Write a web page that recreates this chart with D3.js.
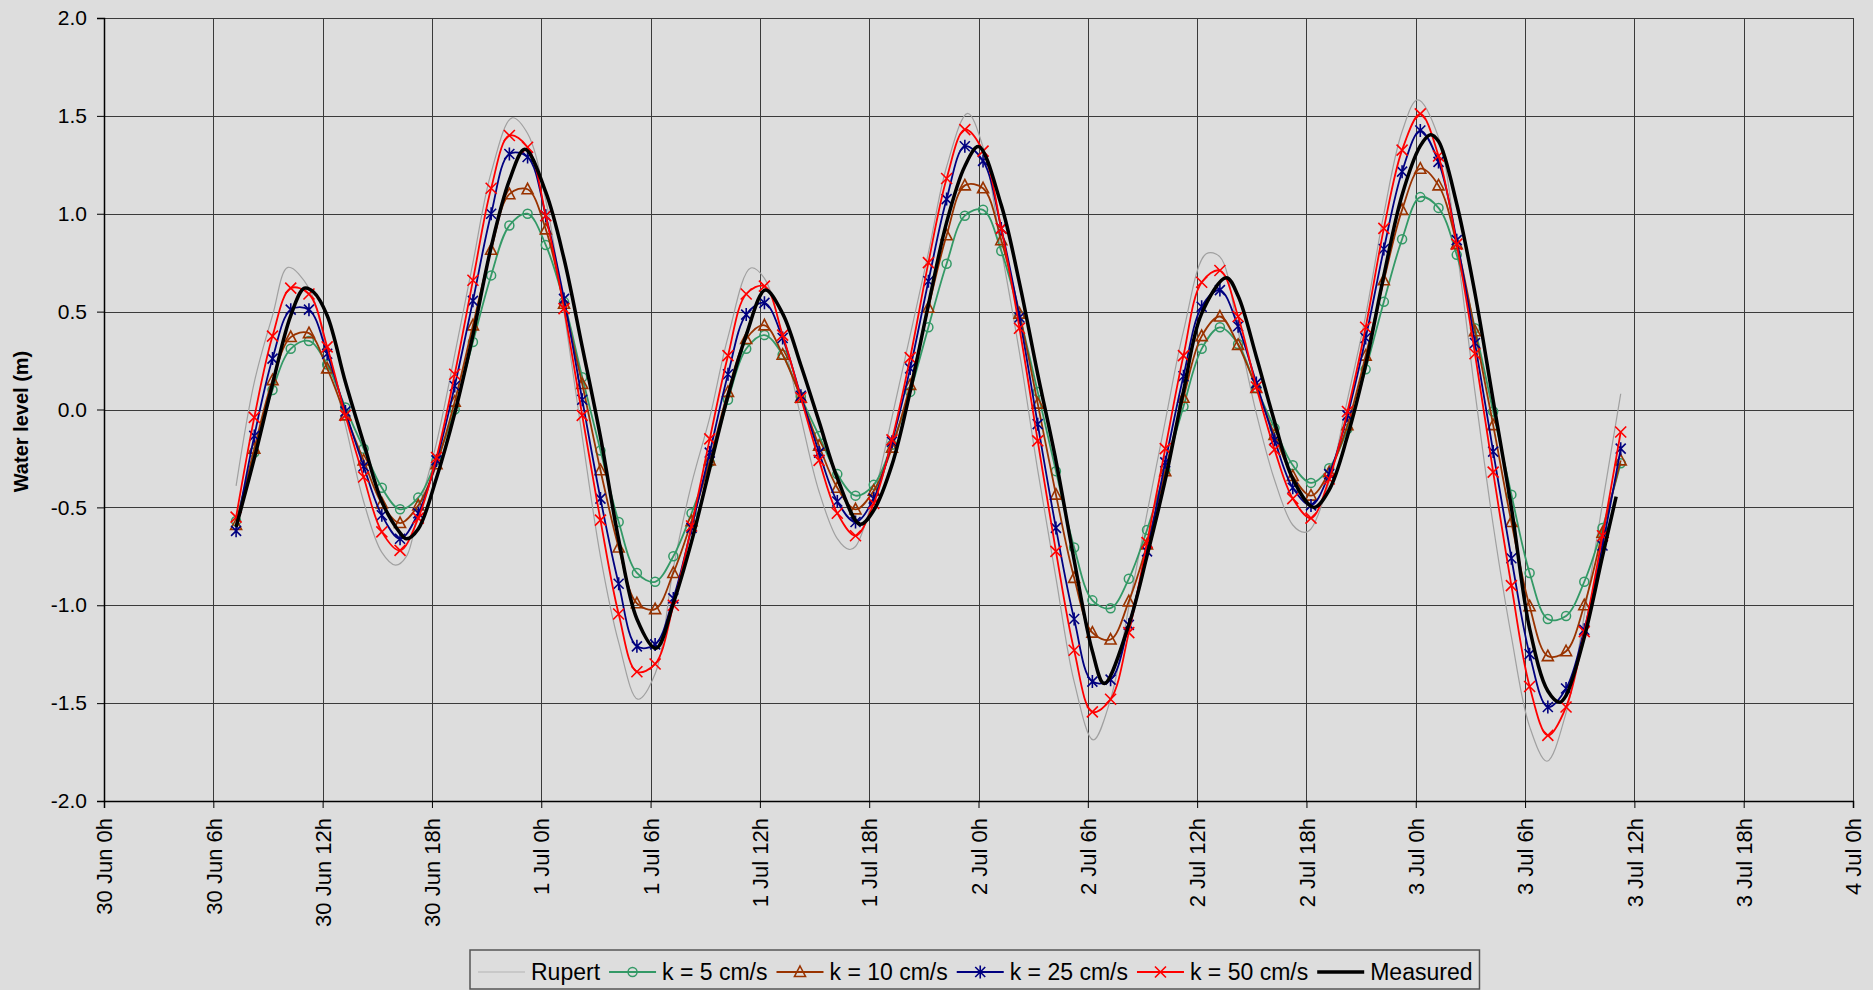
<!DOCTYPE html>
<html>
<head>
<meta charset="utf-8">
<script src="https://cdn.jsdelivr.net/npm/d3@7"></script>
<style>
  html, body { margin: 0; padding: 0; background: #dddddd; }
  svg { display: block; }
  text { font-family: "Liberation Sans", Arial, sans-serif; fill: #000; }
</style>
</head>
<body>
<svg id="chart" width="1873" height="990"></svg>
<script>
// ---------- DATA ----------
// time axis: hours since 30 Jun 0h
const xTickHours = [0,6,12,18,24,30,36,42,48,54,60,66,72,78,84,90,96];
const xTickLabels = ["30 Jun 0h","30 Jun 6h","30 Jun 12h","30 Jun 18h","1 Jul 0h","1 Jul 6h","1 Jul 12h","1 Jul 18h","2 Jul 0h","2 Jul 6h","2 Jul 12h","2 Jul 18h","3 Jul 0h","3 Jul 6h","3 Jul 12h","3 Jul 18h","4 Jul 0h"];
const yTicks = [-2,-1.5,-1,-0.5,0,0.5,1,1.5,2];

// model output times (hourly, at :15)
const modelTimes = [7.25,8.25,9.25,10.25,11.25,12.25,13.25,14.25,15.25,16.25,17.25,18.25,19.25,20.25,21.25,22.25,23.25,24.25,25.25,26.25,27.25,28.25,29.25,30.25,31.25,32.25,33.25,34.25,35.25,36.25,37.25,38.25,39.25,40.25,41.25,42.25,43.25,44.25,45.25,46.25,47.25,48.25,49.25,50.25,51.25,52.25,53.25,54.25,55.25,56.25,57.25,58.25,59.25,60.25,61.25,62.25,63.25,64.25,65.25,66.25,67.25,68.25,69.25,70.25,71.25,72.25,73.25,74.25,75.25,76.25,77.25,78.25,79.25,80.25,81.25,82.25,83.25];

const k5 = [-0.57,-0.22,0.10,0.31,0.35,0.23,0.01,-0.20,-0.40,-0.51,-0.45,-0.26,0.00,0.345,0.685,0.94,1.00,0.84,0.55,0.165,-0.21,-0.575,-0.835,-0.88,-0.75,-0.53,-0.27,0.05,0.31,0.38,0.28,0.065,-0.135,-0.33,-0.44,-0.385,-0.18,0.09,0.42,0.745,0.99,1.02,0.81,0.48,0.09,-0.315,-0.705,-0.975,-1.015,-0.865,-0.615,-0.31,0.015,0.31,0.42,0.335,0.11,-0.095,-0.285,-0.375,-0.30,-0.10,0.205,0.55,0.87,1.085,1.03,0.79,0.415,-0.01,-0.435,-0.835,-1.07,-1.055,-0.88,-0.605,-0.275];
const k10 = [-0.59,-0.20,0.15,0.37,0.39,0.21,-0.03,-0.26,-0.48,-0.58,-0.49,-0.28,0.04,0.43,0.816,1.10,1.125,0.92,0.54,0.13,-0.31,-0.705,-0.99,-1.02,-0.835,-0.57,-0.26,0.09,0.36,0.43,0.28,0.06,-0.185,-0.40,-0.51,-0.415,-0.195,0.125,0.52,0.89,1.145,1.13,0.865,0.49,0.03,-0.435,-0.86,-1.14,-1.175,-0.98,-0.69,-0.315,0.06,0.375,0.475,0.33,0.11,-0.13,-0.34,-0.44,-0.32,-0.08,0.275,0.66,1.02,1.23,1.145,0.845,0.40,-0.08,-0.575,-1.005,-1.26,-1.235,-1.00,-0.63,-0.26];
const k25 = [-0.62,-0.135,0.26,0.51,0.51,0.285,-0.01,-0.29,-0.54,-0.66,-0.53,-0.26,0.12,0.555,1.00,1.305,1.29,0.99,0.565,0.05,-0.455,-0.89,-1.21,-1.20,-0.965,-0.605,-0.22,0.18,0.485,0.545,0.365,0.07,-0.22,-0.47,-0.575,-0.455,-0.165,0.21,0.655,1.075,1.345,1.27,0.925,0.47,-0.075,-0.605,-1.07,-1.39,-1.38,-1.10,-0.725,-0.27,0.17,0.525,0.61,0.425,0.135,-0.155,-0.40,-0.49,-0.33,-0.03,0.365,0.82,1.215,1.425,1.265,0.865,0.34,-0.215,-0.76,-1.25,-1.52,-1.425,-1.125,-0.695,-0.20];
const k50 = [-0.55,-0.04,0.375,0.62,0.59,0.32,-0.03,-0.345,-0.625,-0.72,-0.555,-0.245,0.18,0.66,1.13,1.40,1.34,0.99,0.515,-0.03,-0.565,-1.045,-1.34,-1.30,-1.00,-0.595,-0.15,0.275,0.59,0.63,0.38,0.06,-0.26,-0.53,-0.645,-0.48,-0.155,0.265,0.75,1.18,1.43,1.32,0.925,0.415,-0.16,-0.725,-1.23,-1.545,-1.48,-1.14,-0.68,-0.20,0.275,0.65,0.71,0.475,0.115,-0.205,-0.455,-0.555,-0.355,-0.01,0.42,0.925,1.325,1.51,1.295,0.845,0.285,-0.32,-0.90,-1.415,-1.665,-1.52,-1.135,-0.645,-0.115];

const rupertTimes = [7.25,8.25,9.25,10.1,11.25,12.25,13.25,14.25,15.25,16.0,16.6,17.25,18.25,19.25,20.25,21.25,22.4,23.25,24.25,25.25,26.25,27.25,28.25,29.3,30.25,31.25,32.25,33.25,34.25,35.5,36.25,37.25,38.25,39.25,40.25,40.9,41.25,42.25,43.25,44.25,45.25,46.25,47.4,48.25,49.25,50.25,51.25,52.25,53.25,54.3,55.25,56.25,57.25,58.25,59.25,60.5,61.25,62.25,63.25,64.25,65.25,65.9,66.25,67.25,68.25,69.25,70.25,71.25,72.1,73.25,74.25,75.25,76.25,77.25,78.25,79.2,80.25,81.25,82.25,83.25];
const rupert = [-0.39,0.14,0.48,0.726,0.62,0.29,-0.08,-0.47,-0.73,-0.795,-0.75,-0.52,-0.17,0.28,0.75,1.21,1.49,1.41,1.07,0.50,-0.14,-0.75,-1.19,-1.48,-1.35,-0.81,-0.38,-0.04,0.37,0.723,0.67,0.37,-0.04,-0.42,-0.66,-0.715,-0.70,-0.44,-0.04,0.38,0.80,1.24,1.513,1.34,0.82,0.29,-0.31,-0.86,-1.39,-1.688,-1.48,-1.01,-0.53,-0.06,0.40,0.796,0.78,0.40,-0.02,-0.36,-0.59,-0.628,-0.61,-0.37,0.05,0.48,1.00,1.42,1.582,1.39,0.82,0.09,-0.59,-1.16,-1.62,-1.797,-1.55,-1.05,-0.48,0.08];

const measuredTimes = [7.25,8.25,9.25,10.25,11.0,11.5,12.25,13.25,14.25,15.25,16.25,16.6,17.25,18.25,19.25,20.25,21.25,22.25,23.1,24.25,25.25,26.25,27.25,28.25,29.25,30.3,31.25,32.25,33.25,34.25,35.25,36.3,37.25,38.25,39.25,40.25,41.5,42.25,43.25,44.25,45.25,46.25,47.25,48.0,49.25,50.25,51.25,52.25,53.25,54.25,54.9,56.25,57.25,58.25,59.25,60.25,61.6,62.25,63.25,64.25,65.25,66.4,67.25,68.25,69.25,70.25,71.25,72.25,72.8,73.25,74.25,75.25,76.25,77.25,78.25,79.25,79.9,80.25,81.25,82.25,83.0];
const measured = [-0.60,-0.25,0.13,0.48,0.62,0.60,0.48,0.14,-0.17,-0.47,-0.63,-0.66,-0.61,-0.35,-0.02,0.38,0.83,1.17,1.33,1.11,0.77,0.32,-0.14,-0.665,-1.07,-1.22,-0.99,-0.675,-0.30,0.07,0.38,0.61,0.49,0.226,-0.062,-0.35,-0.586,-0.515,-0.283,0.093,0.535,0.956,1.243,1.343,1.044,0.646,0.181,-0.261,-0.77,-1.235,-1.40,-1.10,-0.748,-0.36,0.093,0.491,0.673,0.58,0.27,-0.062,-0.354,-0.50,-0.41,-0.137,0.228,0.685,1.096,1.347,1.404,1.37,1.05,0.594,0.046,-0.502,-1.119,-1.438,-1.495,-1.461,-1.164,-0.75,-0.445];

const seriesNames = ["Rupert","k = 5 cm/s","k = 10 cm/s","k = 25 cm/s","k = 50 cm/s","Measured"];

// ---------- LAYOUT ----------
const svg = d3.select("#chart");
const L = 104, R = 1853, T = 18, B = 801;
const x = d3.scaleLinear().domain([0, 96]).range([L, R]);
const y = d3.scaleLinear().domain([-2, 2]).range([B, T]);

// gridlines
const grid = svg.append("g");
grid.selectAll("line.h").data(yTicks).join("line")
  .attr("x1", L).attr("x2", R)
  .attr("y1", d => Math.round(y(d)) + 0.5).attr("y2", d => Math.round(y(d)) + 0.5)
  .attr("stroke", "#3a3a3a").attr("stroke-width", 1);
grid.selectAll("line.v").data(xTickHours).join("line")
  .attr("y1", T).attr("y2", B)
  .attr("x1", d => Math.round(x(d)) + 0.5).attr("x2", d => Math.round(x(d)) + 0.5)
  .attr("stroke", "#3a3a3a").attr("stroke-width", 1);

// axes
const yAxis = svg.append("g").attr("transform", `translate(${L},0)`)
  .call(d3.axisLeft(y).tickValues(yTicks).tickFormat(d => d.toFixed(1)).tickSize(7).tickPadding(10));
yAxis.select(".domain").attr("stroke", "#000").attr("stroke-width", 1.5);
yAxis.selectAll(".tick line").attr("stroke", "#000");
yAxis.selectAll("text").attr("font-size", 21).style("font-family", "'Liberation Sans', Arial, sans-serif");

const xAxis = svg.append("g").attr("transform", `translate(0,${B})`)
  .call(d3.axisBottom(x).tickValues(xTickHours).tickFormat((d, i) => xTickLabels[i]).tickSize(7));
xAxis.select(".domain").attr("stroke", "#000").attr("stroke-width", 1.5);
xAxis.selectAll(".tick line").attr("stroke", "#000");
xAxis.selectAll("text")
  .attr("font-size", 22).style("font-family", "'Liberation Sans', Arial, sans-serif")
  .attr("text-anchor", "end")
  .attr("transform", "rotate(-90)")
  .attr("x", -17).attr("y", 0).attr("dy", "0.35em");

// y label
svg.append("text")
  .attr("transform", `translate(21,${(T + B) / 2 + 12}) rotate(-90)`)
  .attr("text-anchor", "middle").attr("dy", "0.35em")
  .attr("font-size", 20).attr("font-weight", "bold")
  .text("Water level (m)");

// ---------- SERIES ----------
const line = d3.line().x(d => x(d[0])).y(d => y(d[1])).curve(d3.curveCatmullRom.alpha(0.5));
const zip = (ts, vs) => ts.map((t, i) => [t, vs[i]]);

const styles = [
  { name: seriesNames[0], t: rupertTimes, v: rupert, color: "#a0a0a0", width: 1.2, marker: null, legendColor: "#c0c0c0" },
  { name: seriesNames[1], t: modelTimes, v: k5, color: "#339966", width: 1.8, marker: "circle" },
  { name: seriesNames[2], t: modelTimes, v: k10, color: "#993300", width: 1.8, marker: "triangle" },
  { name: seriesNames[3], t: modelTimes, v: k25, color: "#000080", width: 1.8, marker: "star" },
  { name: seriesNames[4], t: modelTimes, v: k50, color: "#ff0000", width: 1.8, marker: "x" },
  { name: seriesNames[5], t: measuredTimes, v: measured, color: "#000000", width: 3.5, marker: null }
];

function drawMarker(g, type, color) {
  if (type === "circle") {
    g.append("circle").attr("r", 4.5).attr("fill", "none").attr("stroke", color).attr("stroke-width", 1.5);
  } else if (type === "triangle") {
    g.append("path").attr("d", "M0,-6 L5.5,4.5 L-5.5,4.5 Z").attr("fill", "none").attr("stroke", color).attr("stroke-width", 1.6);
  } else if (type === "star") {
    g.append("path").attr("d", "M-5,-5 L5,5 M-5,5 L5,-5 M0,-6.5 L0,6.5").attr("stroke", color).attr("stroke-width", 1.6);
  } else if (type === "x") {
    g.append("path").attr("d", "M-5.5,-5.5 L5.5,5.5 M-5.5,5.5 L5.5,-5.5").attr("stroke", color).attr("stroke-width", 1.6);
  }
}

const plot = svg.append("g");
styles.forEach(s => {
  const pts = zip(s.t, s.v);
  plot.append("path").datum(pts).attr("d", line)
    .attr("fill", "none").attr("stroke", s.color).attr("stroke-width", s.width)
    .attr("stroke-linejoin", "round");
  if (s.marker) {
    pts.forEach(p => {
      const g = plot.append("g").attr("transform", `translate(${x(p[0])},${y(p[1])})`);
      drawMarker(g, s.marker, s.color);
    });
  }
});

// ---------- LEGEND ----------
const legend = svg.append("g");
const box = legend.append("rect").attr("fill", "none").attr("stroke", "#555").attr("stroke-width", 1.5);
const ly = 972;
let cx = 478;
styles.forEach(s => {
  const sampleW = 47;
  legend.append("line").attr("x1", cx).attr("x2", cx + sampleW).attr("y1", ly).attr("y2", ly)
    .attr("stroke", s.legendColor || s.color).attr("stroke-width", s.name === "Measured" ? 3.5 : (s.marker ? 1.8 : 1.5));
  if (s.marker) {
    const g = legend.append("g").attr("transform", `translate(${cx + sampleW / 2},${ly})`);
    drawMarker(g, s.marker, s.color);
  }
  const t = legend.append("text").attr("x", cx + sampleW + 6).attr("y", ly).attr("dy", "0.35em")
    .attr("font-size", 23).text(s.name);
  cx = cx + sampleW + 6 + t.node().getComputedTextLength() + 9;
});
box.attr("x", 470).attr("y", 950).attr("width", cx - 470 - 2).attr("height", 39);
</script>
</body>
</html>
